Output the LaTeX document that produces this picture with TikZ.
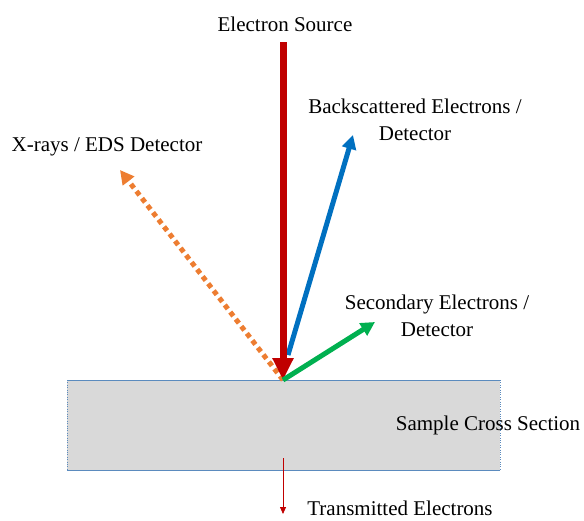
\documentclass[tikz,border=0pt]{standalone}
\usepackage{fontspec}
\setmainfont{Liberation Serif}
\usetikzlibrary{arrows.meta}
\definecolor{haz}{RGB}{192,0,0}
\definecolor{retro}{RGB}{0,112,192}
\definecolor{secund}{RGB}{0,176,80}
\definecolor{rayosx}{RGB}{237,125,49}
\definecolor{muestra}{RGB}{217,217,217}
\definecolor{borde}{RGB}{91,139,190}

\begin{document}
\begin{tikzpicture}[x=1pt, y=-1pt, every node/.style={font=\fontsize{21}{27}\selectfont, inner sep=0pt},
  haz/.style={draw=haz, line width=7pt, -{Triangle[length=22pt, width=20pt]}},
  rayo/.style={line width=5pt, -{Triangle[length=14pt, width=14pt]}}]
\useasboundingbox (0,0) rectangle (584,520);
% muestra
\fill[muestra] (67,380) rectangle (500,470);
\draw[borde, thin, dotted] (67,380) -- (67,470) (500,380) -- (500,470);
\draw[borde, thick] (67,380) -- (500,380) (67,470) -- (500,470);
\coordinate (impacto) at (283,380);
\coordinate (fuente) at (283,42);
\coordinate (bse) at (353,135);
\coordinate (se) at (375,322);
\coordinate (edx) at (120,170);
\coordinate (tin) at (283,458);
\coordinate (tout) at (283,514);
% textos
\node (tsrc) at (285,24) {Electron Source};
\node[align=center] (tbse) at (415,120) {Backscattered Electrons /\\Detector};
\node[align=center] (tse) at (437,316) {Secondary Electrons /\\Detector};
\node (tedx) at (107,147) {X-rays / EDS Detector};
\node (tmuestra) at (488,425) {Sample Cross Section};
\node (ttrans) at (400,508) {Transmitted Electrons};
% flechas
\draw[rayo, rayosx, dash pattern=on 5pt off 4pt] (impacto) -- (edx);
\draw[rayo, retro] ([xshift=5pt,yshift=25pt]impacto) -- (bse);
\draw[haz] (fuente) -- (impacto);
\draw[rayo, secund] (impacto) -- (se);
\draw[haz, line width=0.8pt, -{Triangle[length=7pt, width=6pt]}] (tin) -- (tout);
\end{tikzpicture}
\end{document}
